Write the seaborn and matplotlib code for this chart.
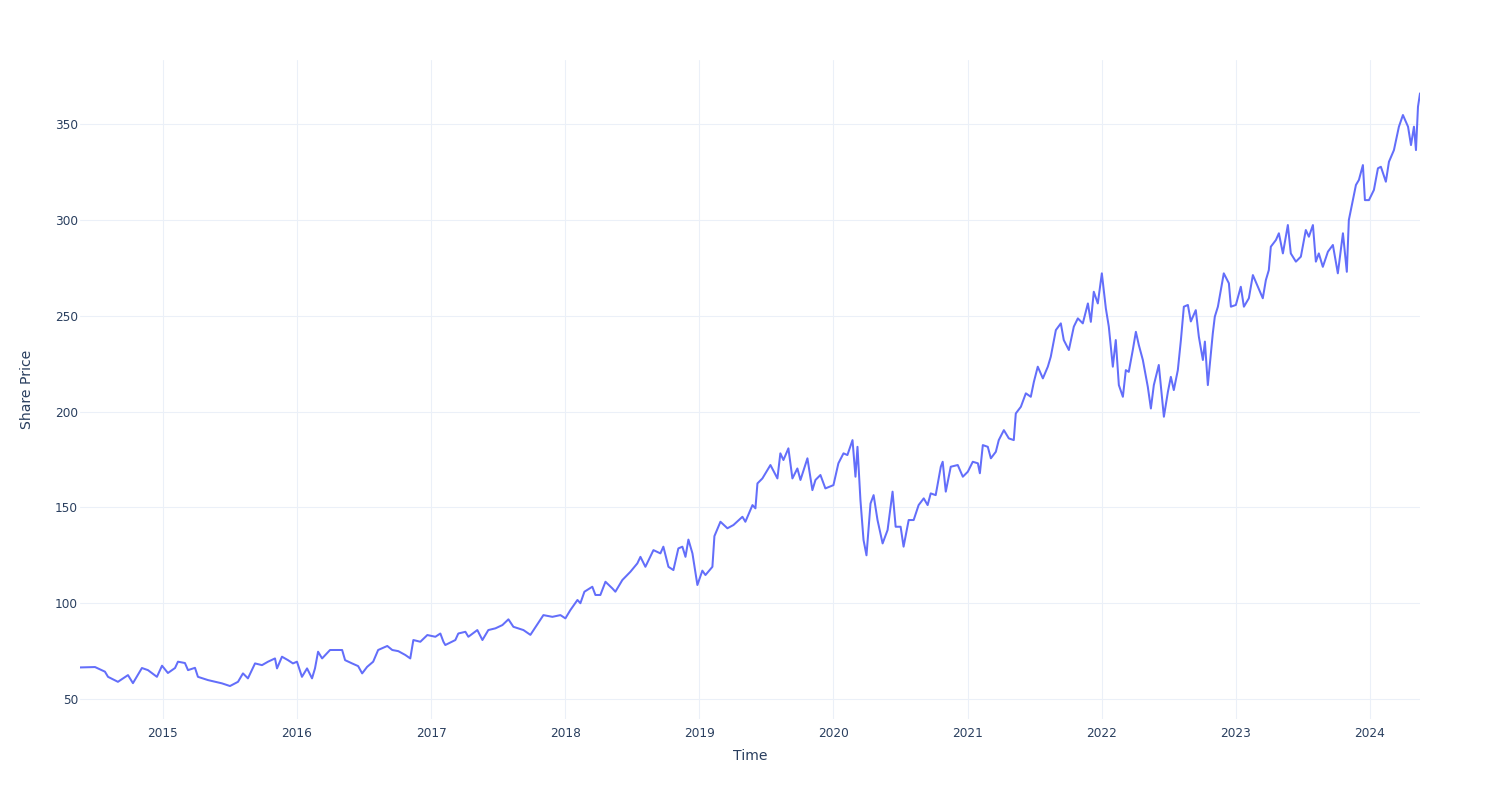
import numpy as np
import pandas as pd
import matplotlib
matplotlib.use("Agg")
import matplotlib.pyplot as plt
import matplotlib.dates as mdates
import seaborn as sns

# Time as decimal years
years = [
    2014.381, 2014.493, 2014.567, 2014.590, 2014.664, 2014.739, 2014.776, 2014.843, 2014.888, 2014.955,
    2014.993, 2015.037, 2015.090, 2015.112, 2015.164, 2015.187, 2015.239, 2015.261, 2015.336, 2015.440,
    2015.500, 2015.560, 2015.597, 2015.634, 2015.687, 2015.739, 2015.784, 2015.836, 2015.851, 2015.888,
    2015.933, 2015.970, 2016.000, 2016.037, 2016.075, 2016.112, 2016.134, 2016.157, 2016.187, 2016.246,
    2016.336, 2016.358, 2016.410, 2016.455, 2016.485, 2016.522, 2016.567, 2016.604, 2016.672, 2016.709,
    2016.754, 2016.806, 2016.843, 2016.866, 2016.918, 2016.970, 2017.030, 2017.067, 2017.090, 2017.104,
    2017.179, 2017.201, 2017.254, 2017.276, 2017.343, 2017.381, 2017.425, 2017.478, 2017.530, 2017.575,
    2017.612, 2017.687, 2017.739, 2017.791, 2017.836, 2017.903, 2017.963, 2018.000, 2018.037, 2018.090,
    2018.112, 2018.142, 2018.201, 2018.224, 2018.261, 2018.299, 2018.351, 2018.373, 2018.425, 2018.485,
    2018.537, 2018.560, 2018.597, 2018.657, 2018.709, 2018.731, 2018.769, 2018.806, 2018.843, 2018.873,
    2018.896, 2018.918, 2018.948, 2018.985, 2019.022, 2019.045, 2019.097, 2019.112, 2019.157, 2019.209,
    2019.254, 2019.321, 2019.343, 2019.396, 2019.418, 2019.433, 2019.470, 2019.530, 2019.582, 2019.604,
    2019.627, 2019.664, 2019.694, 2019.731, 2019.754, 2019.806, 2019.843, 2019.866, 2019.903, 2019.940,
    2020.000, 2020.037, 2020.075, 2020.104, 2020.142, 2020.164, 2020.179, 2020.201, 2020.224, 2020.246,
    2020.276, 2020.299, 2020.328, 2020.366, 2020.403, 2020.440, 2020.463, 2020.500, 2020.522, 2020.560,
    2020.597, 2020.634, 2020.672, 2020.701, 2020.724, 2020.761, 2020.799, 2020.813, 2020.836, 2020.873,
    2020.925, 2020.963, 2021.000, 2021.037, 2021.075, 2021.090, 2021.112, 2021.149, 2021.172, 2021.209,
    2021.231, 2021.269, 2021.306, 2021.343, 2021.358, 2021.396, 2021.433, 2021.470, 2021.493, 2021.522,
    2021.560, 2021.597, 2021.619, 2021.657, 2021.694, 2021.716, 2021.754, 2021.791, 2021.821, 2021.858,
    2021.896, 2021.918, 2021.940, 2021.970, 2022.000, 2022.030, 2022.052, 2022.082, 2022.104, 2022.127,
    2022.157, 2022.179, 2022.201, 2022.231, 2022.254, 2022.276, 2022.306, 2022.343, 2022.366, 2022.388,
    2022.425, 2022.463, 2022.493, 2022.515, 2022.537, 2022.567, 2022.590, 2022.612, 2022.642, 2022.664,
    2022.701, 2022.724, 2022.754, 2022.769, 2022.791, 2022.828, 2022.843, 2022.866, 2022.888, 2022.910,
    2022.948, 2022.963, 2023.000, 2023.037, 2023.060, 2023.097, 2023.127, 2023.164, 2023.201, 2023.224,
    2023.246, 2023.261, 2023.299, 2023.321, 2023.351, 2023.388, 2023.410, 2023.448, 2023.485, 2023.522,
    2023.545, 2023.575, 2023.597, 2023.619, 2023.649, 2023.687, 2023.724, 2023.761, 2023.799, 2023.828,
    2023.843, 2023.873, 2023.896, 2023.918, 2023.948, 2023.963, 2023.993, 2024.030, 2024.060, 2024.082,
    2024.119, 2024.142, 2024.179, 2024.216, 2024.246, 2024.284, 2024.306, 2024.328, 2024.343, 2024.358,
    2024.373,
]

share_price = [
    66.5, 66.7, 64.3, 61.6, 59.0, 62.5, 58.3, 66.2, 65.1, 61.6,
    67.4, 63.6, 66.2, 69.5, 68.8, 65.1, 66.3, 61.6, 59.9, 58.2,
    56.8, 59.0, 63.4, 60.8, 68.6, 67.7, 69.5, 71.2, 66.0, 72.1,
    70.3, 68.6, 69.5, 61.6, 66.0, 60.8, 66.0, 74.7, 71.2, 75.6,
    75.6, 70.3, 68.6, 67.2, 63.4, 66.8, 69.5, 75.6, 77.7, 75.6,
    75.0, 73.0, 71.2, 80.8, 79.9, 83.4, 82.5, 84.2, 79.9, 78.2,
    80.8, 84.2, 85.1, 82.5, 86.0, 80.8, 86.0, 86.9, 88.6, 91.6,
    87.7, 86.0, 83.5, 89.0, 93.8, 92.9, 93.8, 92.1, 96.4, 101.7,
    100.0, 106.0, 108.6, 104.3, 104.3, 111.2, 107.7, 106.0, 112.1, 116.4,
    120.8, 124.2, 119.0, 127.7, 126.0, 129.5, 119.0, 117.3, 128.6, 129.5,
    124.2, 133.2, 126.0, 109.5, 117.0, 114.7, 119.0, 135.0, 142.5, 139.1,
    140.8, 145.1, 142.5, 151.2, 149.5, 162.5, 165.1, 172.1, 165.1, 178.2,
    174.7, 180.8, 165.1, 170.3, 164.3, 175.6, 159.0, 164.3, 166.9, 159.9,
    161.6, 173.0, 178.2, 177.3, 185.1, 166.0, 181.6, 153.8, 133.0, 125.0,
    152.0, 156.4, 143.4, 131.2, 138.2, 158.2, 139.9, 139.9, 129.5, 143.4,
    143.4, 151.2, 154.7, 151.2, 157.3, 156.4, 171.2, 173.8, 158.2, 171.2,
    172.1, 166.0, 168.6, 173.8, 173.0, 167.8, 182.5, 181.6, 175.6, 179.0,
    185.1, 190.3, 186.0, 185.1, 199.0, 202.5, 209.5, 207.7, 215.5, 223.4,
    217.3, 223.4, 228.6, 242.5, 246.0, 237.3, 232.1, 244.3, 248.6, 246.0,
    256.4, 246.8, 262.5, 256.4, 272.1, 253.8, 244.3, 223.4, 237.3, 213.8,
    207.7, 221.6, 220.7, 232.1, 241.6, 234.7, 226.9, 212.9, 201.6, 213.8,
    224.3, 197.3, 210.3, 218.1, 211.2, 221.6, 237.3, 254.7, 255.6, 247.0,
    252.9, 239.0, 226.9, 236.5, 213.8, 240.8, 249.5, 254.7, 263.4, 272.1,
    266.9, 254.7, 255.6, 265.1, 254.7, 259.1, 271.2, 265.1, 259.1, 268.6,
    273.8, 286.0, 289.5, 293.0, 282.5, 297.3, 282.5, 278.2, 280.8, 294.7,
    291.2, 297.3, 278.2, 282.5, 275.5, 283.4, 286.9, 272.1, 293.0, 272.9,
    299.9, 310.3, 318.2, 320.8, 328.6, 310.3, 310.3, 315.6, 326.9, 327.7,
    319.9, 330.3, 336.4, 348.6, 354.7, 348.6, 339.0, 348.6, 336.4, 359.0,
    366.0,
]

y_ticks = [50, 100, 150, 200, 250, 300, 350]
x_tick_years = list(range(2015, 2025))


def to_date(t):
    y = int(np.floor(t))
    start = pd.Timestamp(year=y, month=1, day=1)
    end = pd.Timestamp(year=y + 1, month=1, day=1)
    return start + (end - start) * (t - y)


df = pd.DataFrame({
    "Time": [to_date(t) for t in years],
    "Share Price": share_price,
})

sns.set_theme(style="white")
plt.rcParams["font.family"] = ["DejaVu Sans"]

TEXT = "#2a3f5f"
GRID = "#EBF0F8"
LINE = "#636efa"

fig = plt.figure(figsize=(15, 8), dpi=100)
ax = fig.add_axes([80 / 1500, 1 - 719 / 800, 1340 / 1500, 659 / 800])
ax.set_facecolor("white")

sns.lineplot(data=df, x="Time", y="Share Price", ax=ax, color=LINE,
             linewidth=1.45, estimator=None, sort=False)

ax.set_xlim(df["Time"].iloc[0], df["Time"].iloc[-1])
ax.set_ylim(39.6, 383.4)

ax.set_xticks([pd.Timestamp(year=y, month=1, day=1) for y in x_tick_years])
ax.xaxis.set_major_formatter(mdates.DateFormatter("%Y"))
ax.set_yticks(y_ticks)

ax.grid(True, color=GRID, linewidth=0.75)
ax.set_axisbelow(True)
for s in ax.spines.values():
    s.set_visible(False)

ax.tick_params(axis="both", length=0, labelsize=8.7, labelcolor=TEXT)
ax.tick_params(axis="x", pad=5.5)
ax.tick_params(axis="y", pad=1.5)

ax.set_xlabel("Time", fontsize=10.1, color=TEXT)
ax.set_ylabel("Share Price", fontsize=10.1, color=TEXT)
ax.xaxis.label.set_va("center")
ax.yaxis.label.set_va("center")
ax.xaxis.set_label_coords(0.5, -(756 - 719) / 659)
ax.yaxis.set_label_coords(-(80 - 27) / 1340, 0.5)

fig.savefig("out.png", dpi=100, facecolor="white")
